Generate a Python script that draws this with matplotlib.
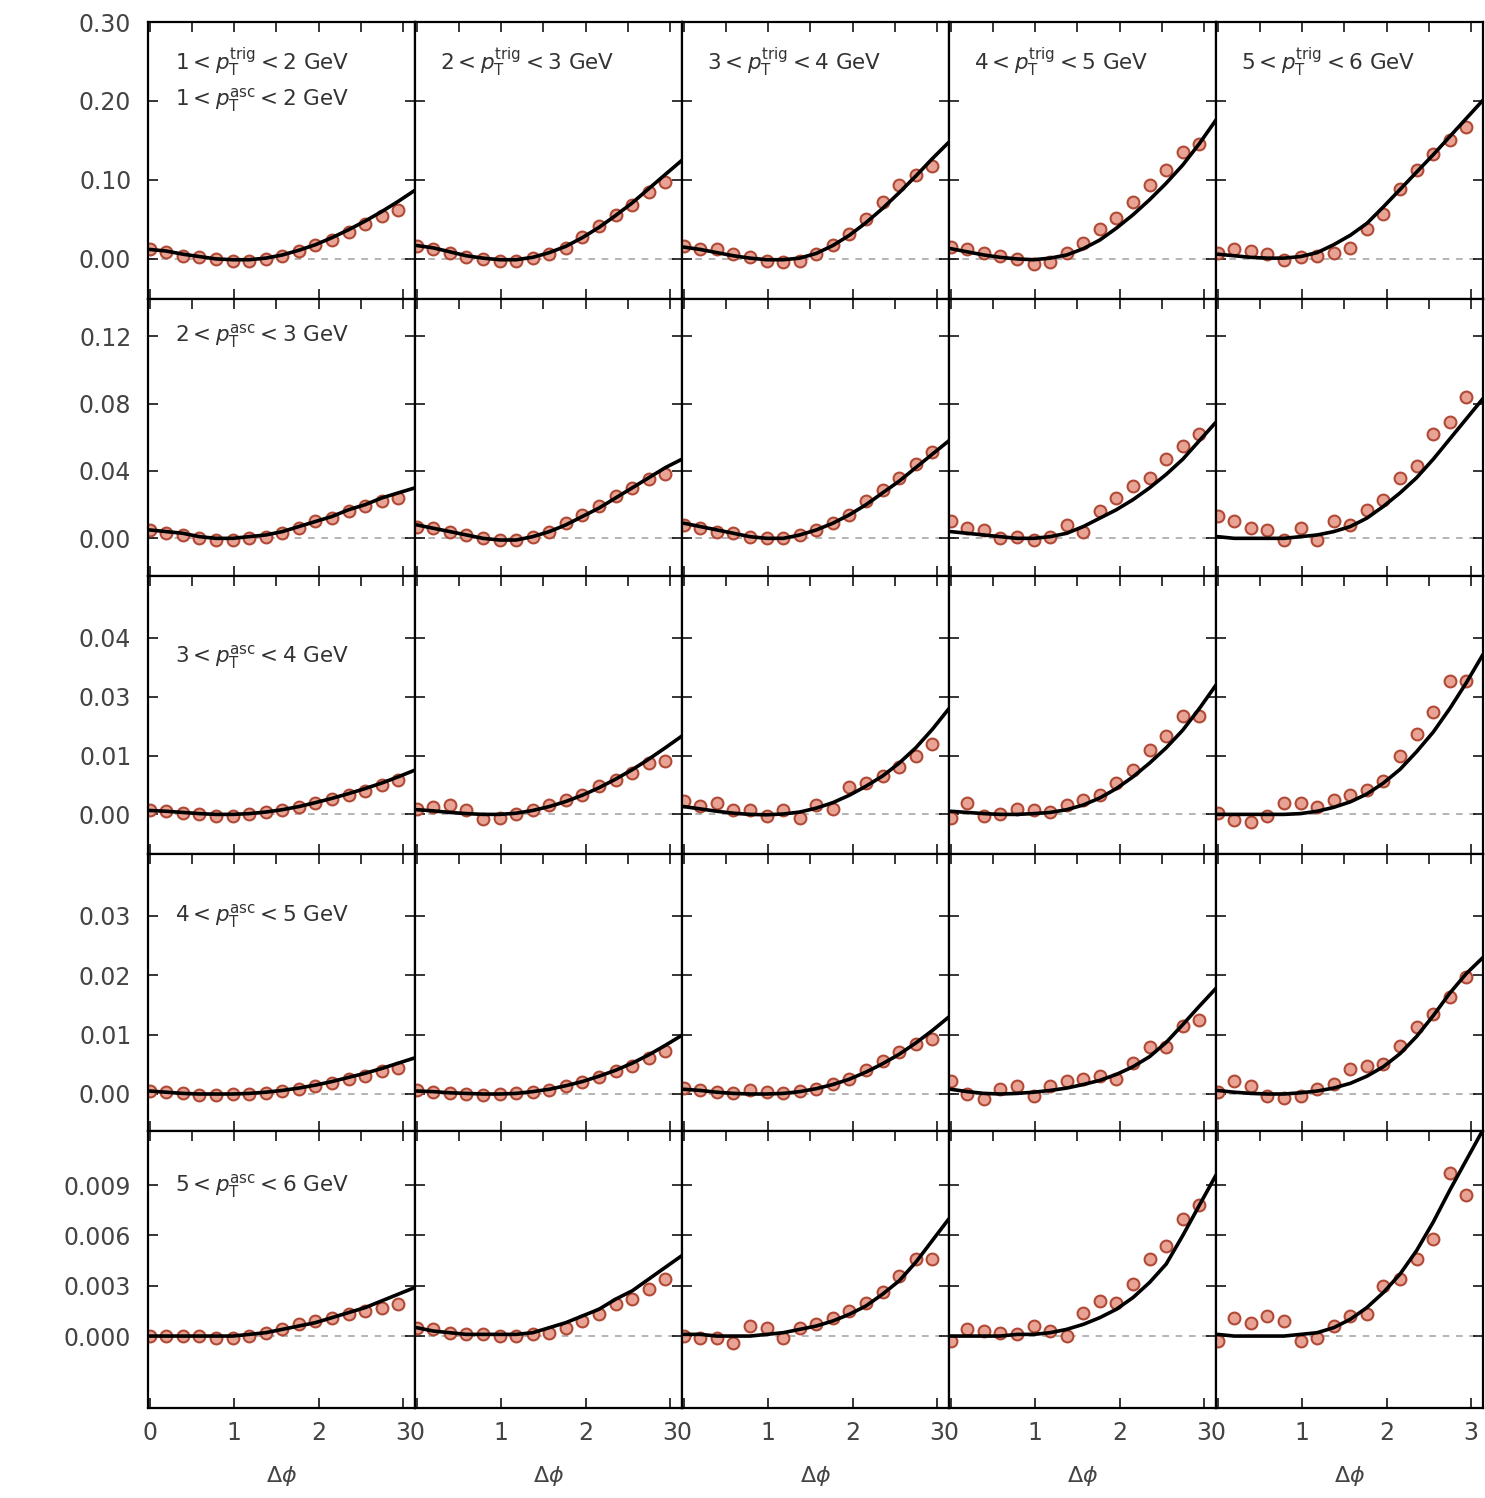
import matplotlib
matplotlib.use("Agg")
import matplotlib.pyplot as plt
from matplotlib.ticker import FixedLocator, FormatStrFormatter, NullFormatter

plt.rcParams["font.family"] = ["DejaVu Sans"]
plt.rcParams["mathtext.fontset"] = "dejavusans"

# Delta-phi positions of the data bins and of the model curve knots
dphi_data = [0.000, 0.196, 0.393, 0.589, 0.785, 0.982, 1.178, 1.374,
             1.571, 1.767, 1.963, 2.160, 2.356, 2.553, 2.749, 2.945]
dphi_model = dphi_data + [3.142]

# pT bins (GeV): columns = trigger bins, rows = associated bins
trig_bins = [(1, 2), (2, 3), (3, 4), (4, 5), (5, 6)]
asc_bins = [(1, 2), (2, 3), (3, 4), (4, 5), (5, 6)]

# ---- associated 1-2 GeV ----
model_asc12 = [
    [0.012, 0.010, 0.006, 0.003, 0.000, -0.001, -0.001, 0.001, 0.005, 0.011, 0.018, 0.027, 0.037, 0.048, 0.060, 0.073, 0.087],
    [0.017, 0.014, 0.009, 0.004, 0.001, -0.001, -0.001, 0.002, 0.008, 0.016, 0.027, 0.040, 0.055, 0.071, 0.089, 0.107, 0.125],
    [0.015, 0.012, 0.008, 0.004, 0.001, -0.001, -0.001, 0.001, 0.007, 0.017, 0.030, 0.046, 0.064, 0.084, 0.105, 0.127, 0.148],
    [0.013, 0.009, 0.005, 0.002, 0.000, -0.001, 0.001, 0.005, 0.013, 0.024, 0.039, 0.056, 0.075, 0.096, 0.119, 0.146, 0.176],
    [0.006, 0.004, 0.002, 0.001, 0.001, 0.003, 0.008, 0.018, 0.030, 0.045, 0.066, 0.088, 0.110, 0.132, 0.155, 0.178, 0.201],
]
data_asc12 = [
    [0.012, 0.009, 0.004, 0.002, 0.000, -0.002, -0.002, 0.000, 0.004, 0.010, 0.017, 0.024, 0.034, 0.044, 0.054, 0.062],
    [0.016, 0.013, 0.008, 0.003, 0.000, -0.003, -0.002, 0.001, 0.006, 0.014, 0.028, 0.042, 0.055, 0.068, 0.085, 0.097],
    [0.016, 0.013, 0.012, 0.006, 0.002, -0.002, -0.004, -0.002, 0.006, 0.018, 0.031, 0.050, 0.072, 0.093, 0.106, 0.118],
    [0.015, 0.012, 0.008, 0.004, 0.000, -0.007, -0.004, 0.008, 0.020, 0.038, 0.052, 0.072, 0.094, 0.112, 0.135, 0.146],
    [0.008, 0.012, 0.010, 0.006, -0.001, 0.002, 0.004, 0.008, 0.014, 0.038, 0.057, 0.089, 0.112, 0.133, 0.150, 0.167],
]

# ---- associated 2-3 GeV ----
model_asc23 = [
    [0.005, 0.004, 0.003, 0.001, 0.000, 0.000, 0.001, 0.002, 0.004, 0.007, 0.010, 0.013, 0.017, 0.020, 0.024, 0.027, 0.030],
    [0.008, 0.006, 0.004, 0.002, 0.000, -0.001, -0.001, 0.001, 0.004, 0.008, 0.013, 0.018, 0.024, 0.030, 0.036, 0.042, 0.047],
    [0.009, 0.007, 0.005, 0.003, 0.001, 0.000, 0.000, 0.002, 0.005, 0.009, 0.014, 0.020, 0.027, 0.034, 0.042, 0.050, 0.058],
    [0.004, 0.003, 0.002, 0.001, 0.000, 0.000, 0.001, 0.003, 0.007, 0.012, 0.017, 0.023, 0.030, 0.038, 0.047, 0.058, 0.069],
    [0.001, 0.000, 0.000, 0.000, 0.000, 0.001, 0.002, 0.004, 0.007, 0.012, 0.019, 0.027, 0.036, 0.047, 0.059, 0.071, 0.083],
]
data_asc23 = [
    [0.005, 0.003, 0.002, 0.000, -0.001, -0.001, 0.000, 0.001, 0.003, 0.006, 0.010, 0.012, 0.016, 0.019, 0.022, 0.024],
    [0.007, 0.006, 0.004, 0.002, 0.000, -0.001, -0.001, 0.001, 0.004, 0.009, 0.014, 0.019, 0.025, 0.030, 0.035, 0.038],
    [0.008, 0.006, 0.004, 0.003, 0.001, 0.000, 0.000, 0.002, 0.005, 0.009, 0.014, 0.022, 0.029, 0.036, 0.044, 0.051],
    [0.010, 0.006, 0.005, 0.000, 0.001, -0.001, 0.001, 0.008, 0.004, 0.016, 0.024, 0.031, 0.036, 0.047, 0.055, 0.062],
    [0.013, 0.010, 0.006, 0.005, -0.001, 0.006, -0.001, 0.010, 0.008, 0.017, 0.023, 0.036, 0.043, 0.062, 0.069, 0.084],
]

# ---- associated 3-4 GeV ----
model_asc34 = [
    [0.0010, 0.0008, 0.0005, 0.0002, 0.0000, 0.0000, 0.0002, 0.0006, 0.0012, 0.0020, 0.0030, 0.0041, 0.0053, 0.0066, 0.0080, 0.0096, 0.0113],
    [0.0012, 0.0009, 0.0005, 0.0002, 0.0000, 0.0000, 0.0003, 0.0010, 0.0020, 0.0033, 0.0049, 0.0068, 0.0090, 0.0114, 0.0141, 0.0170, 0.0200],
    [0.0020, 0.0014, 0.0008, 0.0003, 0.0000, -0.0001, 0.0001, 0.0006, 0.0016, 0.0030, 0.0049, 0.0072, 0.0098, 0.0131, 0.0170, 0.0217, 0.0270],
    [0.0008, 0.0005, 0.0002, 0.0000, 0.0000, 0.0002, 0.0005, 0.0012, 0.0024, 0.0042, 0.0066, 0.0096, 0.0131, 0.0170, 0.0215, 0.0270, 0.0330],
    [0.0000, 0.0000, 0.0000, 0.0000, 0.0000, 0.0002, 0.0008, 0.0018, 0.0032, 0.0052, 0.0080, 0.0115, 0.0160, 0.0210, 0.0270, 0.0336, 0.0408],
]
data_asc34 = [
    [0.0012, 0.0008, 0.0004, 0.0001, -0.0003, -0.0003, 0.0001, 0.0005, 0.0010, 0.0019, 0.0028, 0.0038, 0.0049, 0.0060, 0.0074, 0.0088],
    [0.0015, 0.0018, 0.0024, 0.0012, -0.0012, -0.0010, 0.0000, 0.0010, 0.0024, 0.0036, 0.0050, 0.0072, 0.0088, 0.0105, 0.0130, 0.0135],
    [0.0033, 0.0022, 0.0028, 0.0011, 0.0011, -0.0005, 0.0011, -0.0008, 0.0024, 0.0015, 0.0071, 0.0080, 0.0097, 0.0120, 0.0150, 0.0180],
    [-0.0010, 0.0028, -0.0005, 0.0000, 0.0015, 0.0010, 0.0005, 0.0023, 0.0036, 0.0050, 0.0079, 0.0114, 0.0165, 0.0199, 0.0252, 0.0252],
    [0.0003, -0.0015, -0.0020, -0.0004, 0.0028, 0.0028, 0.0019, 0.0036, 0.0049, 0.0062, 0.0084, 0.0148, 0.0204, 0.0260, 0.0340, 0.0340],
]

# ---- associated 4-5 GeV ----
model_asc45 = [
    [0.0005, 0.0003, 0.0001, 0.0000, 0.0000, 0.0000, 0.0001, 0.0003, 0.0006, 0.0010, 0.0015, 0.0021, 0.0028, 0.0035, 0.0043, 0.0052, 0.0061],
    [0.0005, 0.0004, 0.0002, 0.0001, 0.0000, 0.0000, 0.0001, 0.0004, 0.0008, 0.0014, 0.0021, 0.0030, 0.0040, 0.0052, 0.0066, 0.0082, 0.0099],
    [0.0008, 0.0006, 0.0003, 0.0001, 0.0000, 0.0000, 0.0001, 0.0004, 0.0009, 0.0016, 0.0025, 0.0037, 0.0051, 0.0067, 0.0086, 0.0107, 0.0130],
    [0.0008, 0.0004, 0.0001, 0.0000, 0.0001, 0.0003, 0.0006, 0.0010, 0.0016, 0.0023, 0.0033, 0.0046, 0.0063, 0.0087, 0.0117, 0.0148, 0.0178],
    [0.0006, 0.0003, 0.0001, 0.0000, 0.0000, 0.0002, 0.0005, 0.0010, 0.0018, 0.0030, 0.0046, 0.0068, 0.0097, 0.0132, 0.0170, 0.0203, 0.0230],
]
data_asc45 = [
    [0.0005, 0.0003, 0.0001, -0.0001, -0.0001, 0.0000, 0.0000, 0.0002, 0.0005, 0.0009, 0.0014, 0.0019, 0.0025, 0.0031, 0.0038, 0.0044],
    [0.0006, 0.0004, 0.0002, 0.0000, -0.0001, 0.0000, 0.0001, 0.0003, 0.0007, 0.0013, 0.0020, 0.0028, 0.0038, 0.0048, 0.0060, 0.0072],
    [0.0010, 0.0006, 0.0004, 0.0002, 0.0006, 0.0003, 0.0002, 0.0005, 0.0009, 0.0017, 0.0026, 0.0040, 0.0055, 0.0070, 0.0085, 0.0092],
    [0.0022, 0.0000, -0.0008, 0.0008, 0.0014, -0.0003, 0.0014, 0.0022, 0.0025, 0.0030, 0.0025, 0.0053, 0.0080, 0.0080, 0.0115, 0.0124],
    [0.0003, 0.0022, 0.0014, -0.0003, -0.0006, -0.0003, 0.0008, 0.0017, 0.0042, 0.0048, 0.0050, 0.0081, 0.0113, 0.0135, 0.0163, 0.0197],
]

# ---- associated 5-6 GeV ----
model_asc56 = [
    [0.0000, 0.0000, 0.0000, 0.0000, 0.0000, 0.0000, 0.0001, 0.0002, 0.0004, 0.0006, 0.0008, 0.0011, 0.0014, 0.0017, 0.0021, 0.0025, 0.0029],
    [0.0005, 0.0003, 0.0002, 0.0001, 0.0001, 0.0001, 0.0001, 0.0002, 0.0005, 0.0008, 0.0012, 0.0016, 0.0022, 0.0027, 0.0034, 0.0041, 0.0048],
    [0.0001, 0.0001, 0.0000, 0.0000, 0.0000, 0.0001, 0.0002, 0.0004, 0.0006, 0.0009, 0.0013, 0.0018, 0.0025, 0.0033, 0.0044, 0.0057, 0.0070],
    [0.0000, 0.0000, 0.0000, 0.0000, 0.0001, 0.0001, 0.0002, 0.0004, 0.0007, 0.0011, 0.0016, 0.0023, 0.0032, 0.0043, 0.0060, 0.0078, 0.0096],
    [0.0001, 0.0000, 0.0000, 0.0000, 0.0000, 0.0001, 0.0002, 0.0005, 0.0010, 0.0017, 0.0026, 0.0037, 0.0051, 0.0068, 0.0087, 0.0105, 0.0123],
]
data_asc56 = [
    [0.0000, 0.0000, 0.0000, 0.0000, -0.0001, -0.0001, 0.0000, 0.0002, 0.0004, 0.0007, 0.0009, 0.0011, 0.0013, 0.0015, 0.0017, 0.0019],
    [0.0005, 0.0004, 0.0002, 0.0001, 0.0001, 0.0000, 0.0000, 0.0001, 0.0002, 0.0005, 0.0009, 0.0013, 0.0019, 0.0022, 0.0028, 0.0034],
    [0.0000, -0.0001, -0.0001, -0.0004, 0.0006, 0.0005, -0.0001, 0.0005, 0.0007, 0.0011, 0.0015, 0.0020, 0.0026, 0.0036, 0.0046, 0.0046],
    [-0.0003, 0.0004, 0.0003, 0.0002, 0.0001, 0.0006, 0.0003, 0.0000, 0.0014, 0.0021, 0.0020, 0.0031, 0.0046, 0.0054, 0.0070, 0.0078],
    [-0.0003, 0.0011, 0.0008, 0.0012, 0.0009, -0.0003, -0.0001, 0.0006, 0.0012, 0.0013, 0.0030, 0.0034, 0.0046, 0.0058, 0.0097, 0.0084],
]

model_rows = [model_asc12, model_asc23, model_asc34, model_asc45, model_asc56]
data_rows = [data_asc12, data_asc23, data_asc34, data_asc45, data_asc56]

# per-row y axis ranges, ticks and label formats
row_ylims = [(-0.051, 0.300), (-0.0226, 0.142), (-0.0100, 0.0607),
             (-0.0062, 0.0405), (-0.00429, 0.01224)]
row_yticks = [[0.0, 0.1, 0.2, 0.3], [0.0, 0.04, 0.08, 0.12],
              [0.0, 0.015, 0.03, 0.045], [0.0, 0.01, 0.02, 0.03],
              [0.0, 0.003, 0.006, 0.009]]
row_yfmt = ["%.2f", "%.2f", "%.2f", "%.2f", "%.3f"]
row_label_y = [0.718, 0.866, 0.711, 0.776, 0.800]

fig = plt.figure(figsize=(14.85, 14.98), dpi=100)
W, H = 1485.0, 1498.0
left_px, top_px, bottom_px = 148.0, 22.0, 1408.0
col_w_px = 267.0
row_h_px = (bottom_px - top_px) / 5

for r in range(5):
    for c in range(5):
        x0 = (left_px + c * col_w_px) / W
        y0 = 1.0 - (top_px + (r + 1) * row_h_px) / H
        ax = fig.add_axes([x0, y0, col_w_px / W, row_h_px / H])

        ax.axhline(0.0, color="#a8a8a8", lw=1.2, ls=(0, (4, 4)), zorder=1)
        ax.plot(dphi_data, data_rows[r][c], ls="none", marker="o", ms=8.5,
                mfc="#e8a394", mec="#b04a36", mew=1.5, zorder=2)
        ax.plot(dphi_model, model_rows[r][c], color="black", lw=2.6,
                solid_capstyle="round", zorder=3)

        ax.set_xlim(-0.02, 3.142)
        ax.set_ylim(*row_ylims[r])

        ax.xaxis.set_major_locator(FixedLocator([0, 1, 2, 3]))
        ax.xaxis.set_minor_locator(FixedLocator([0.5, 1.5, 2.5]))
        ax.yaxis.set_major_locator(FixedLocator(row_yticks[r]))
        ax.tick_params(which="major", direction="in", length=7, width=1.1,
                       top=True, right=True, bottom=True, left=True,
                       labelsize=17, colors="black", labelcolor="#444444")
        ax.tick_params(which="minor", direction="in", length=7, width=1.1,
                       top=True, bottom=False, left=False, right=False)
        ax.tick_params(axis="x", pad=9)
        ax.tick_params(axis="y", pad=12)

        for sp in ax.spines.values():
            sp.set_linewidth(1.6)
            sp.set_color("black")

        if c == 0:
            ax.yaxis.set_major_formatter(FormatStrFormatter(row_yfmt[r]))
        else:
            ax.yaxis.set_major_formatter(NullFormatter())
        if r == 4:
            ax.set_xlabel(r"$\Delta\phi$", fontsize=16, labelpad=14,
                          color="#444444")
        else:
            ax.xaxis.set_major_formatter(NullFormatter())

        tx = 0.10 if c == 0 else 0.095
        if r == 0:
            lo, hi = trig_bins[c]
            ax.text(tx, 0.856,
                    r"$%d < p_{\mathrm{T}}^{\mathrm{trig}} < %d$ GeV" % (lo, hi),
                    transform=ax.transAxes, ha="left", va="center",
                    fontsize=15.5, color="#333333")
        if c == 0:
            lo, hi = asc_bins[r]
            ax.text(tx, row_label_y[r],
                    r"$%d < p_{\mathrm{T}}^{\mathrm{asc}} < %d$ GeV" % (lo, hi),
                    transform=ax.transAxes, ha="left", va="center",
                    fontsize=15.5, color="#333333")

fig.savefig("out.png", dpi=100)
